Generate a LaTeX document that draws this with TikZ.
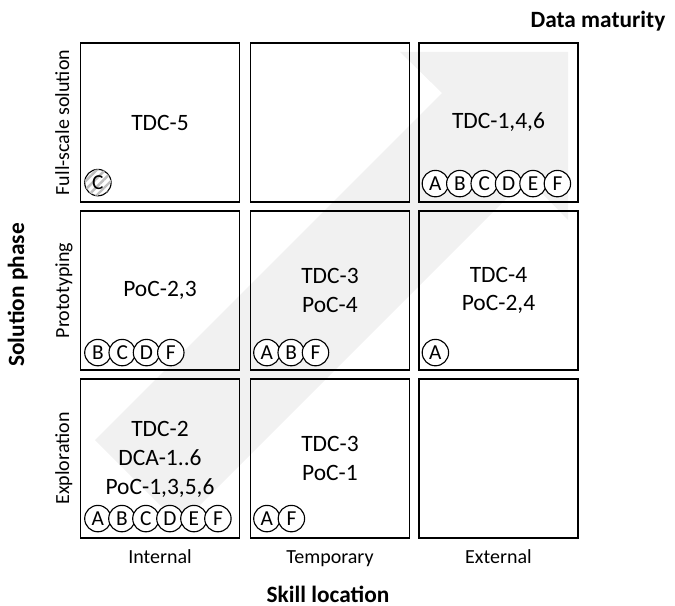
\documentclass[tikz,border=0pt]{standalone}
\usepackage{fontspec}
\setmainfont{Carlito}
\usetikzlibrary{calc,patterns.meta}

\definecolor{bandgrey}{HTML}{F1F1F1}

\begin{document}
\begin{tikzpicture}[x=0.75pt,y=-0.75pt,
  cell/.style={draw=black, line width=0.9pt, minimum width=119.25pt,
    minimum height=119.25pt, inner sep=0pt},
  celltext/.style={font=\fontsize{17.6}{21.5}\selectfont, align=center},
  tag/.style={circle, draw=black, line width=0.85pt, fill=white,
    minimum size=19.8pt, inner sep=0pt, font=\fontsize{16}{16}\selectfont},
  hatchedtag/.style={tag, postaction={pattern={Lines[angle=45,distance=4.5pt,line width=1.8pt]},
    pattern color=gray!50}},
  axislabel/.style={font=\fontsize{15}{18}\selectfont, anchor=base},
  axistitle/.style={font=\bfseries\fontsize{17.5}{20}\selectfont, anchor=base},
]
\useasboundingbox (0,0) rectangle (675,606);

% broad diagonal arrow behind the grid
\fill[bandgrey] (95,440) -- (442,93) -- (400,52) -- (568,52) -- (568,220)
  -- (527,178) -- (180,525) -- cycle;

% grid of cells: row 1 = full-scale, row 3 = exploration
\node[cell] (c11) at (160,122.5) {};
\node[cell] (c12) at (330,122.5) {};
\node[cell] (c13) at (498.5,122.5) {};
\node[cell] (c21) at (160,290.5) {};
\node[cell] (c22) at (330,290.5) {};
\node[cell] (c23) at (498.5,290.5) {};
\node[cell] (c31) at (160,458.5) {};
\node[cell] (c32) at (330,458.5) {};
\node[cell] (c33) at (498.5,458.5) {};

% cell contents
\node[celltext] (t11) at (c11) {TDC-5};
\node[celltext] (t13) at (c13) {TDC-1,4,6};
\node[celltext] (t21) at (c21) {PoC-2,3};
\node[celltext] (t22) at (c22) {TDC-3\\PoC-4};
\node[celltext] (t23) at (c23) {TDC-4\\PoC-2,4};
\node[celltext] (t31) at ($(c31)+(0,1)$) {TDC-2\\DCA-1..6\\PoC-1,3,5,6};
\node[celltext] (t32) at (c32) {TDC-3\\PoC-1};

% lettered tags along the bottom of each cell
\node[hatchedtag] (c11-C) at ($(c11.south west)+(18,-20)$) {C};
\foreach \l [count=\i from 0] in {A,B,C,D,E,F}
  \node[tag] (c13-\l) at ($(c13.south west)+(17+24.4*\i,-19)$) {\l};
\foreach \l [count=\i from 0] in {B,C,D,F}
  \node[tag] (c21-\l) at ($(c21.south west)+(18+24.3*\i,-18)$) {\l};
\foreach \l [count=\i from 0] in {A,B,F}
  \node[tag] (c22-\l) at ($(c22.south west)+(17+24.3*\i,-18)$) {\l};
\node[tag] (c23-A) at ($(c23.south west)+(17,-18)$) {A};
\foreach \l [count=\i from 0] in {A,B,C,D,E,F}
  \node[tag] (c31-\l) at ($(c31.south west)+(18+24*\i,-20)$) {\l};
\foreach \l [count=\i from 0] in {A,F}
  \node[tag] (c32-\l) at ($(c32.south west)+(17+24.5*\i,-20)$) {\l};

% axis labels
\node[axislabel, rotate=90] (r1) at (69,122.5) {Full-scale solution};
\node[axislabel, rotate=90] (r2) at (69,290.5) {Prototyping};
\node[axislabel, rotate=90] (r3) at (69,458.5) {Exploration};
\node[axislabel] (k1) at (160,563) {Internal};
\node[axislabel] (k2) at (330,563) {Temporary};
\node[axislabel] (k3) at (498.5,563) {External};

\node[axistitle, rotate=90] (yt) at (24,295) {Solution phase};
\node[axistitle] (xt) at (328,602) {Skill location};
\node[axistitle, anchor=base east] (dt) at (670,28) {Data maturity};
\end{tikzpicture}
\end{document}
